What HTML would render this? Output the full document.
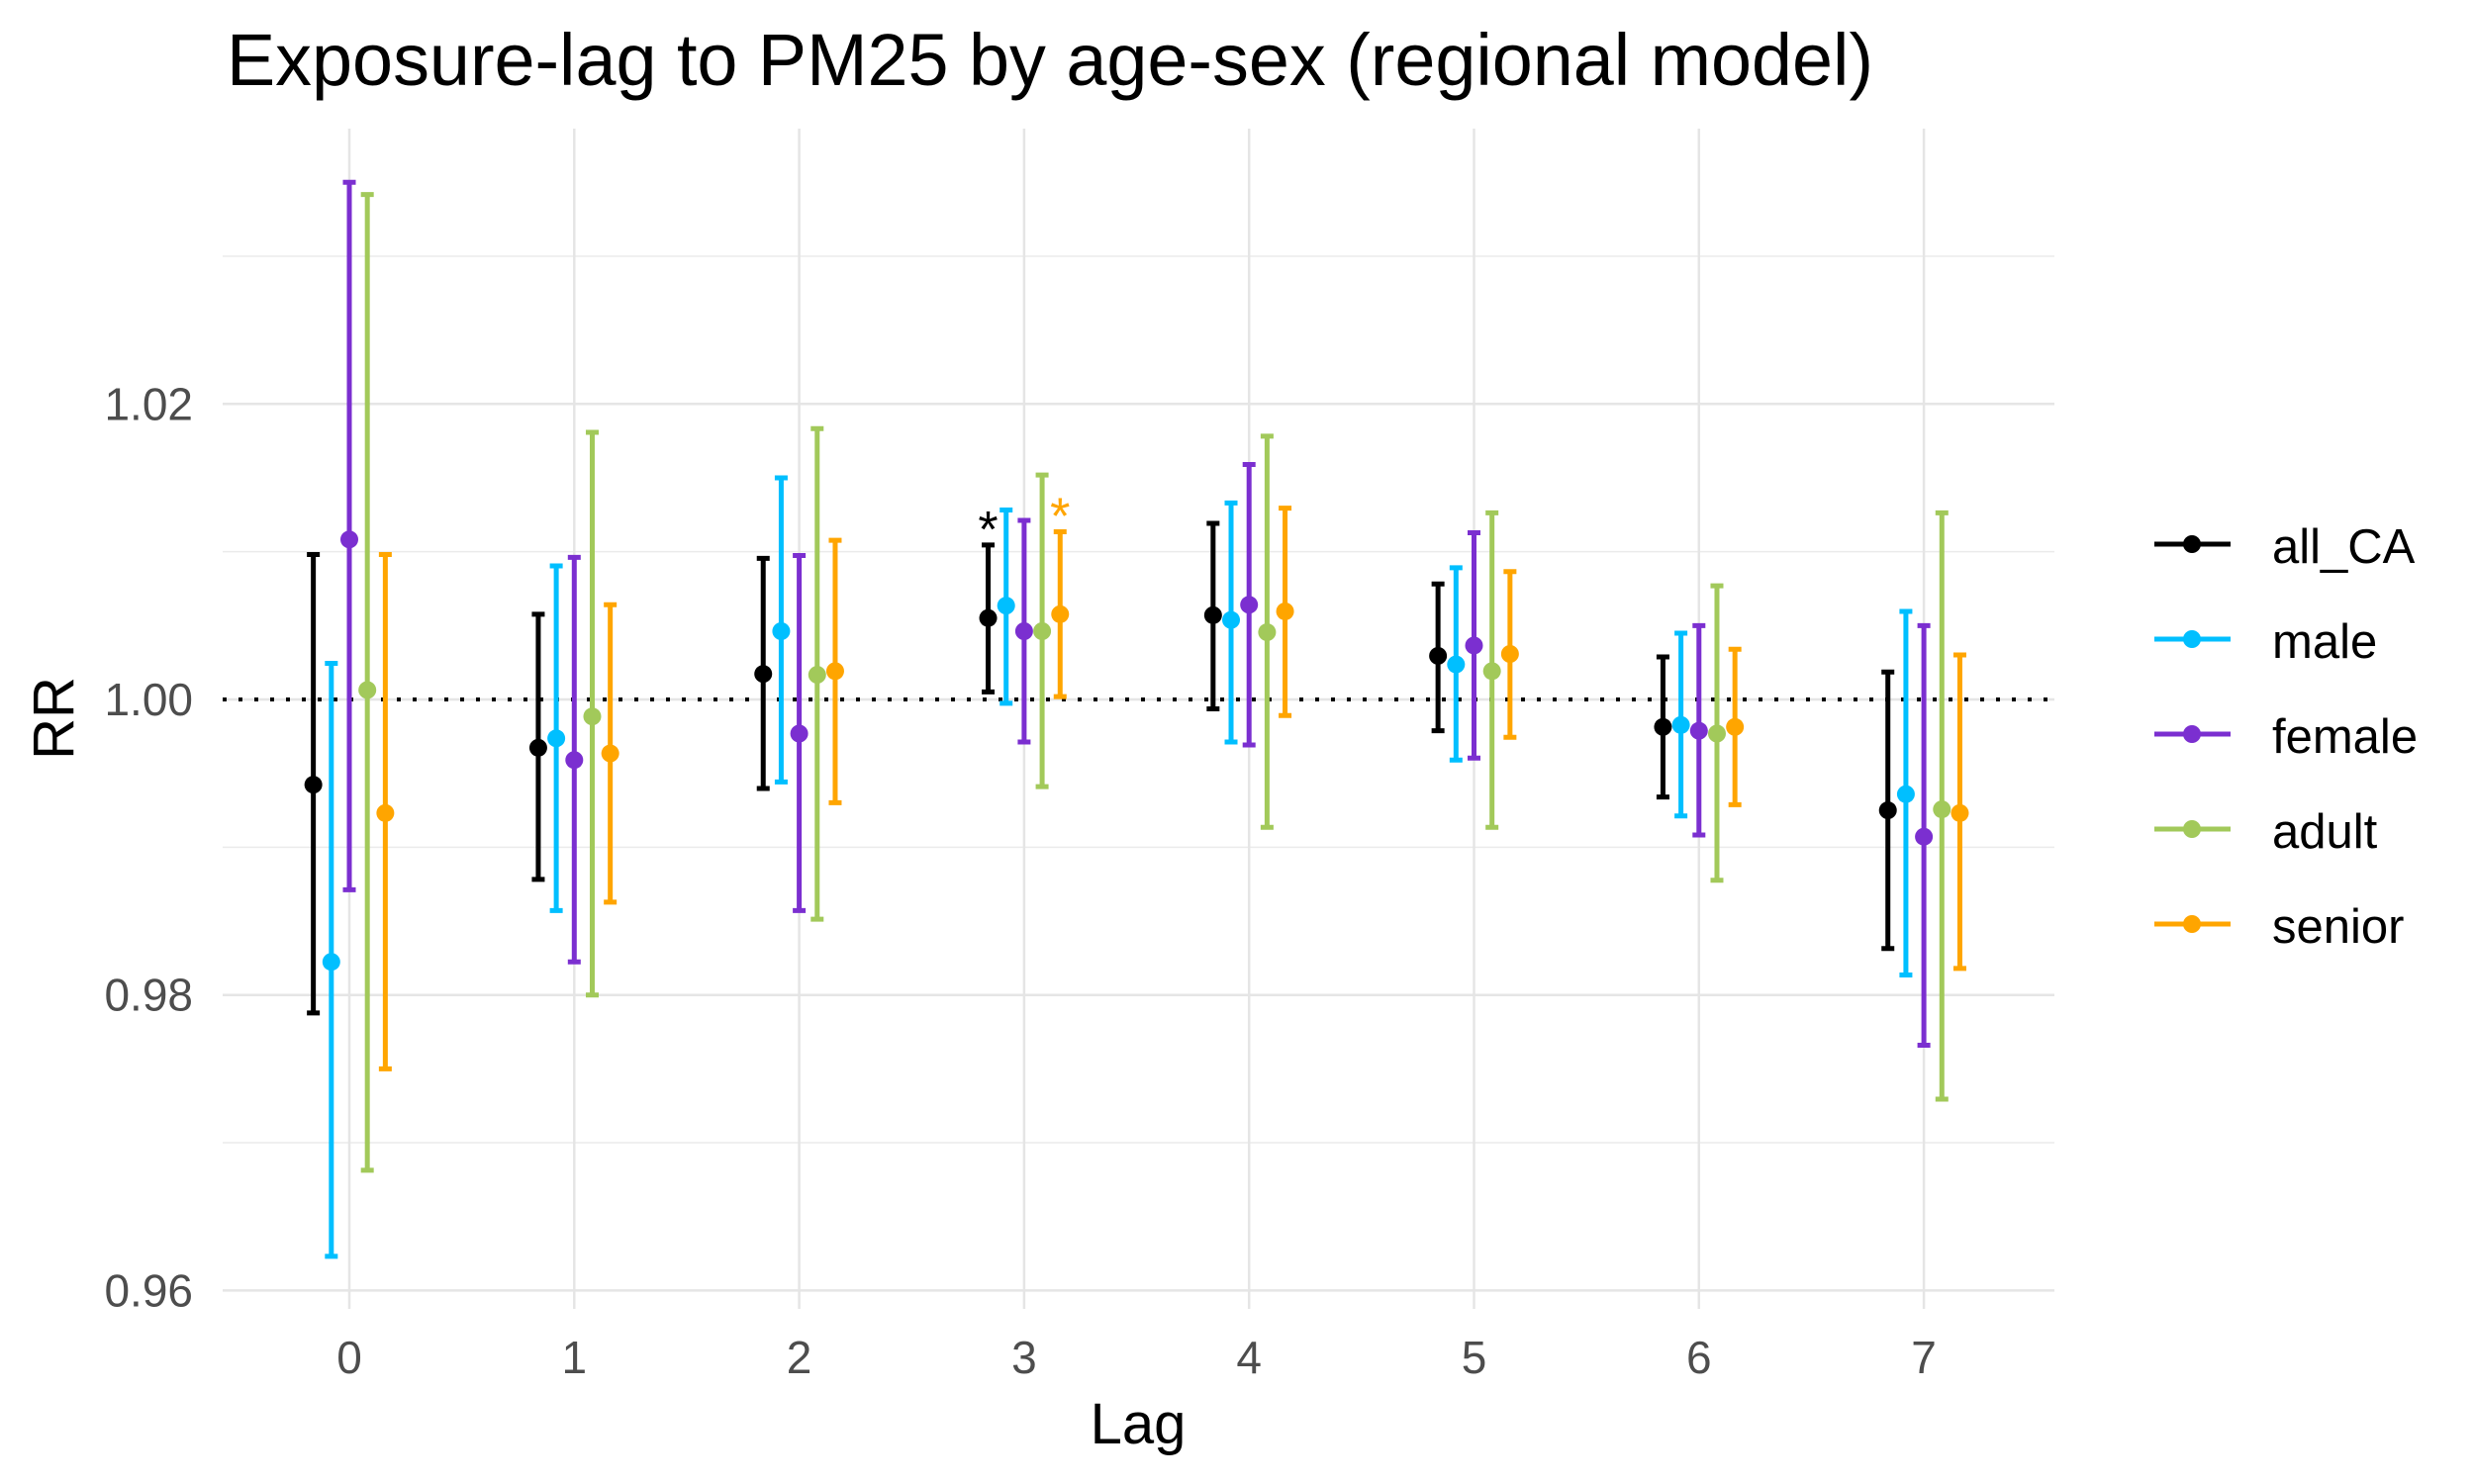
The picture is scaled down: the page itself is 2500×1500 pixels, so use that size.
<!DOCTYPE html>
<html><head><meta charset="utf-8"><style>
html,body{margin:0;padding:0;background:#fff;}
svg{display:block;font-family:"Liberation Sans",Arial,sans-serif;}
</style></head><body>
<svg id="chart" width="2500" height="1500" viewBox="0 0 2500 1500" xmlns="http://www.w3.org/2000/svg">
<text x="229" y="86" font-size="74" textLength="1664" lengthAdjust="spacingAndGlyphs" fill="#000">Exposure-lag to PM25 by age-sex (regional model)</text>
<g id="grid"></g>
<g id="marks"></g>
<g id="axes"></g>
<g id="legend"></g>
<text x="1150" y="1459" font-size="58" text-anchor="middle" fill="#000">Lag</text>
<text transform="translate(74,726) rotate(-90)" font-size="58" text-anchor="middle" fill="#000">RR</text>
</svg>
<script>
const lags = [0,1,2,3,4,5,6,7];
const seriesNames = ["all_CA","male","female","adult","senior"];
const seriesColors = ["#000000","#00bfff","#7b2fd0","#a2c95a","#ffa500"];
const yTicks = [0.96,0.98,1.00,1.02];
const yTickLabels = ["0.96","0.98","1.00","1.02"];
const yMinor = [0.97,0.99,1.01,1.03];
const est_all_CA = [0.99423,0.99673,1.00173,1.00551,1.0057,1.00295,0.99814,0.9925];
const lo_all_CA  = [0.97878,0.98782,0.99397,1.00051,0.99936,0.99788,0.9934,0.98314];
const hi_all_CA  = [1.00981,1.00577,1.00955,1.01045,1.01192,1.00782,1.00288,1.00186];
const est_male = [0.98224,0.99737,1.00462,1.00635,1.00538,1.00237,0.99827,0.99359];
const lo_male  = [0.96231,0.98571,0.99442,0.99974,0.99712,0.9959,0.99212,0.98135];
const hi_male  = [1.00244,1.00904,1.015,1.01282,1.0133,1.00891,1.00449,1.00596];
const est_female = [1.01083,0.9959,0.99769,1.00462,1.00641,1.00365,0.99788,0.99071];
const lo_female  = [0.98712,0.98224,0.98571,0.99712,0.99692,0.99603,0.99083,0.9766];
const hi_female  = [1.035,1.00962,1.00974,1.01212,1.0159,1.01128,1.005,1.005];
const est_adult = [1.00064,0.99885,1.00167,1.00462,1.00455,1.00192,0.99769,0.99256];
const lo_adult  = [0.96814,0.98,0.98513,0.9941,0.99135,0.99135,0.98776,0.97295];
const hi_adult  = [1.03417,1.01808,1.01833,1.01519,1.01782,1.01263,1.00769,1.01263];
const est_senior = [0.99231,0.99635,1.00192,1.00577,1.00596,1.00308,0.99814,0.99231];
const lo_senior  = [0.975,0.98628,0.99301,1.00019,0.99891,0.99744,0.99288,0.9818];
const hi_senior  = [1.00981,1.00641,1.01077,1.01135,1.01295,1.00865,1.0034,1.00301];
const sigLag = [3,3];
const sigSeries = [0,4];

const EST=[est_all_CA,est_male,est_female,est_adult,est_senior];
const LO=[lo_all_CA,lo_male,lo_female,lo_adult,lo_senior];
const HI=[hi_all_CA,hi_male,hi_female,hi_adult,hi_senior];
const NS="http://www.w3.org/2000/svg";
const PL=225,PR=2076,PT=130,PB=1323;
function xScale(l){return 353+l*227.3;}
function yScale(v){return 707-(v-1)*14935;}
function el(t,a,p){const e=document.createElementNS(NS,t);for(const k in a)e.setAttribute(k,a[k]);p.appendChild(e);return e;}
const grid=document.getElementById('grid'),marks=document.getElementById('marks'),axes=document.getElementById('axes'),legend=document.getElementById('legend');
yMinor.forEach(v=>{const l=el('line',{x1:PL,x2:PR,y1:yScale(v),y2:yScale(v),stroke:'#ebebeb','stroke-width':1.5},grid);

});
yTicks.forEach((v,i)=>{const l=el('line',{x1:PL,x2:PR,y1:yScale(v),y2:yScale(v),stroke:'#e5e5e5','stroke-width':2.5},grid);


const t=el('text',{x:195,y:yScale(v)+16,'font-size':46,'text-anchor':'end',fill:'#4d4d4d'},axes);t.textContent=yTickLabels[i];

});
lags.forEach(l=>{const g=el('line',{x1:xScale(l),x2:xScale(l),y1:PT,y2:PB,stroke:'#e5e5e5','stroke-width':2.5},grid);


const t=el('text',{x:xScale(l),y:1388,'font-size':46,'text-anchor':'middle',fill:'#4d4d4d'},axes);t.textContent=String(l);

});
const ref=el('line',{x1:PL,x2:PR,y1:yScale(1),y2:yScale(1),stroke:'#000','stroke-width':4,'stroke-dasharray':'4 12'},grid);


const offs=[-0.16,-0.08,0,0.08,0.16];
seriesNames.forEach((n,s)=>{const g=el('g',{},marks);


lags.forEach((l,i)=>{const x=xScale(l+offs[s]);const c=seriesColors[s];
const y1=yScale(HI[s][i]),y2=yScale(LO[s][i]);
const b=el('path',{d:`M${x},${y1}V${y2}M${x-6.5},${y1}H${x+6.5}M${x-6.5},${y2}H${x+6.5}`,stroke:c,'stroke-width':5,fill:'none'},g);


const p=el('circle',{cx:x,cy:yScale(EST[s][i]),r:9,fill:c},g);

});});
sigLag.forEach((l,k)=>{const s=sigSeries[k];const x=xScale(l+offs[s]);
const t=el('text',{x:x,y:yScale(HI[s][l])+2,'font-size':52,'text-anchor':'middle',fill:seriesColors[s]},marks);t.textContent='*';

});
seriesNames.forEach((n,s)=>{const y=550+s*96;const g=el('g',{},legend);


el('line',{x1:2177,x2:2254,y1:y,y2:y,stroke:seriesColors[s],'stroke-width':5},g);
el('circle',{cx:2215,cy:y,r:9,fill:seriesColors[s]},g);
const t=el('text',{x:2296,y:y+19,'font-size':49,fill:'#000'},g);t.textContent=n;});
</script>
</body></html>
